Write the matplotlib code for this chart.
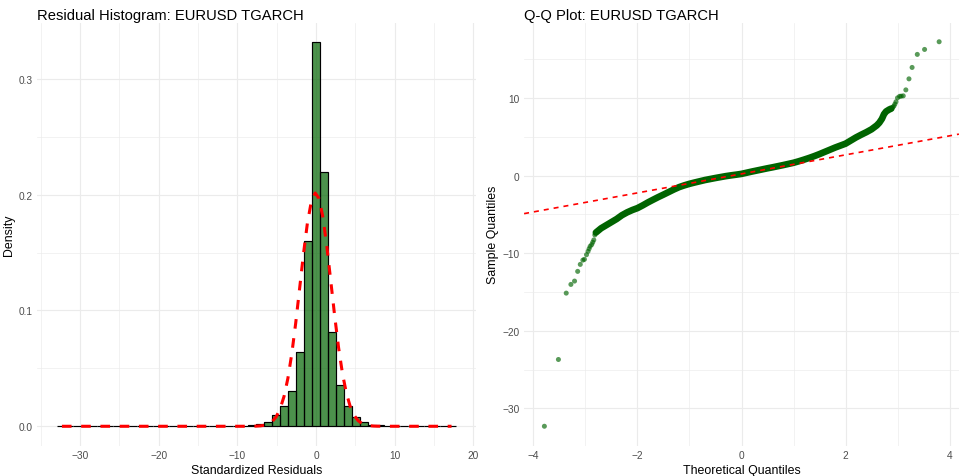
import numpy as np
import matplotlib
matplotlib.use("Agg")
import matplotlib.pyplot as plt
from matplotlib.ticker import MultipleLocator

plt.rcParams['font.family'] = ['Liberation Sans', 'DejaVu Sans']

# ---------------- data ----------------
title_hist = "Residual Histogram: EURUSD TGARCH"
title_qq = "Q-Q Plot: EURUSD TGARCH"

# histogram: 50 equal bins starting at bin_lo with width bin_width
bin_lo = -32.9
bin_width = 1.0133
bin_density = [
    0.00015, 0, 0, 0, 0, 0, 0, 0, 0, 0.00015,
    0, 0, 0, 0, 0, 0, 0, 0.00015, 0.00015, 0.00015,
    0.00015, 0.00044, 0.00029, 0.00058, 0.0012, 0.0023, 0.0037, 0.0098, 0.0176, 0.0308,
    0.064, 0.160, 0.332, 0.2196, 0.0818, 0.0357, 0.0179, 0.0081, 0.0037, 0.0014,
    0.0014, 0.0006, 0.0006, 0.00015, 0.00015, 0, 0.00015, 0.00015, 0.00015, 0.00015,
]
# fitted normal curve parameters
norm_mean = -0.05
norm_sd = 1.98
resid_min = -32.3
resid_max = 17.23

# Q-Q plot: dense body of points (theoretical, sample)
qq_body_theo = [-2.8, -2.7, -2.6, -2.5, -2.4, -2.3, -2.2, -2.1, -2.0, -1.9,
                -1.8, -1.7, -1.6, -1.5, -1.4, -1.3, -1.2, -1.1, -1.0, -0.9,
                -0.8, -0.7, -0.6, -0.5, -0.4, -0.3, -0.2, -0.1, 0.0, 0.1,
                0.2, 0.3, 0.4, 0.5, 0.6, 0.7, 0.8, 0.9, 1.0, 1.1,
                1.2, 1.3, 1.4, 1.5, 1.6, 1.7, 1.8, 1.9, 2.0, 2.1,
                2.2, 2.3, 2.4, 2.5, 2.6, 2.65, 2.7, 2.74, 2.78, 2.84, 2.88]
qq_body_sample = [-7.35, -6.8, -6.4, -6.0, -5.6, -5.12, -4.75, -4.45, -4.2, -3.85,
                  -3.47, -3.12, -2.78, -2.46, -2.13, -1.8, -1.5, -1.27, -1.07, -0.9,
                  -0.74, -0.58, -0.45, -0.32, -0.2, -0.08, 0.02, 0.11, 0.21, 0.36,
                  0.51, 0.65, 0.79, 0.93, 1.06, 1.2, 1.34, 1.49, 1.64, 1.83,
                  2.04, 2.26, 2.5, 2.76, 3.04, 3.32, 3.6, 3.85, 4.1, 4.5,
                  4.9, 5.25, 5.58, 5.95, 6.45, 6.8, 7.3, 7.9, 8.25, 8.5, 8.62]
# Q-Q plot: sparse tail points
qq_tail_theo = [-3.79, -3.52, -3.37, -3.28, -3.21, -3.15, -3.10, -3.05, -3.02, -2.98,
                -2.95, -2.93, -2.91, -2.88, -2.86, -2.84, -2.82,
                2.91, 2.93, 2.95, 2.97, 3.00, 3.04, 3.07, 3.11, 3.16, 3.22,
                3.28, 3.38, 3.52, 3.80]
qq_tail_sample = [-32.3, -23.7, -15.15, -14.03, -13.6, -12.35, -11.45, -10.9, -10.8, -10.2,
                  -9.77, -9.43, -9.12, -8.9, -8.6, -8.3, -7.66,
                  8.8, 8.95, 9.2, 9.5, 10.0, 10.2, 10.22, 10.26, 11.03, 12.45,
                  13.92, 15.6, 16.24, 17.23]
qq_line_intercept = 0.21
qq_line_slope = 1.225

# ---------------- figure ----------------
W, H = 962, 477
fig = plt.figure(figsize=(W / 100, H / 100), dpi=100)
fig.patch.set_facecolor('white')

green = '#006400'
grid_c = '#ebebeb'
tick_c = '#4d4d4d'
tick_fs = 7.3
lab_fs = 8.9
title_fs = 10.6


def style(ax):
    for s in ax.spines.values():
        s.set_visible(False)
    ax.tick_params(which='both', length=0, colors=tick_c, labelsize=tick_fs)
    ax.tick_params(axis='y', pad=3.4)
    ax.tick_params(axis='x', pad=3.5)
    ax.grid(which='major', color=grid_c, lw=0.85)
    ax.grid(which='minor', color=grid_c, lw=0.45)
    ax.set_axisbelow(True)


# left: histogram
ax1 = fig.add_axes([37.3 / W, 1 - 446.5 / H, 438.3 / W, 423.0 / H])
style(ax1)
edges = bin_lo + bin_width * np.arange(len(bin_density) + 1)
ax1.bar(edges[:-1], bin_density, width=bin_width, align='edge',
        color=green, alpha=0.7, edgecolor='none', zorder=2)
ax1.bar(edges[:-1], bin_density, width=bin_width, align='edge',
        facecolor='none', edgecolor='black', lw=0.85, zorder=3)
xs = np.linspace(resid_min, resid_max, 101)
ys = np.exp(-0.5 * ((xs - norm_mean) / norm_sd) ** 2) / (norm_sd * np.sqrt(2 * np.pi))
ax1.plot(xs, ys, color='red', lw=2.2, linestyle=(0, (3.15, 3.15)), zorder=4)
ax1.set_xlim(-35.43, 20.29)
ax1.set_ylim(-0.0166, 0.3486)
ax1.xaxis.set_major_locator(MultipleLocator(10))
ax1.xaxis.set_minor_locator(MultipleLocator(5))
ax1.yaxis.set_major_locator(MultipleLocator(0.1))
ax1.yaxis.set_minor_locator(MultipleLocator(0.05))
ax1.yaxis.set_major_formatter(matplotlib.ticker.FormatStrFormatter('%.1f'))
ax1.set_xlabel("Standardized Residuals", fontsize=lab_fs, labelpad=2.5)
ax1.set_ylabel("Density", fontsize=lab_fs, labelpad=2.5)

# right: Q-Q plot
ax2 = fig.add_axes([524.1 / W, 1 - 446.5 / H, 434.8 / W, 423.0 / H])
style(ax2)
ax2.plot(qq_body_theo, qq_body_sample, color=green, lw=4.8,
         solid_capstyle='round', solid_joinstyle='round', zorder=2)
ax2.scatter(qq_tail_theo, qq_tail_sample, s=13, color=green, alpha=0.65,
            edgecolors='none', zorder=2)
ax2.axline((0, qq_line_intercept), slope=qq_line_slope, color='red', lw=1.2,
           linestyle=(0, (3, 3)), zorder=3)
ax2.set_xlim(-4.18, 4.18)
ax2.set_ylim(-34.78, 19.71)
ax2.xaxis.set_major_locator(MultipleLocator(2))
ax2.xaxis.set_minor_locator(MultipleLocator(1))
ax2.yaxis.set_major_locator(MultipleLocator(10))
ax2.yaxis.set_minor_locator(MultipleLocator(5))
ax2.set_xlabel("Theoretical Quantiles", fontsize=lab_fs, labelpad=2.5)
ax2.set_ylabel("Sample Quantiles", fontsize=lab_fs, labelpad=2.5)

fig.text(37.3 / W, 1 - 20 / H, title_hist, fontsize=title_fs, va='baseline', ha='left')
fig.text(524.1 / W, 1 - 20 / H, title_qq, fontsize=title_fs, va='baseline', ha='left')

fig.savefig("out.png", dpi=100, facecolor='white')
